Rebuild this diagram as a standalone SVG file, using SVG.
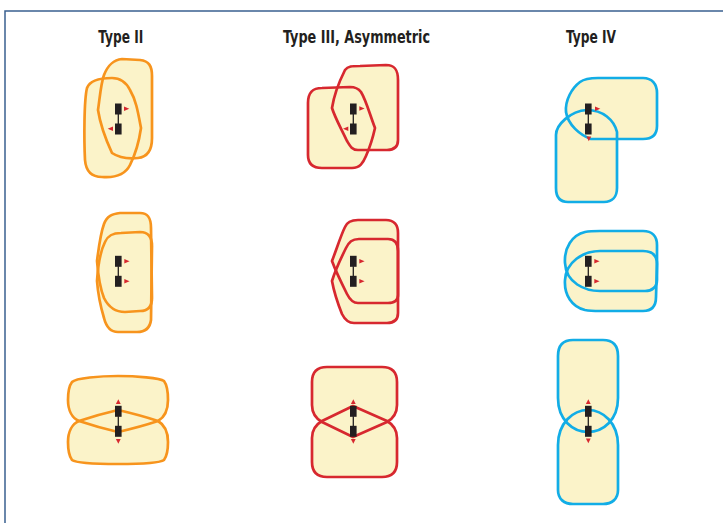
<svg xmlns="http://www.w3.org/2000/svg" xmlns:xlink="http://www.w3.org/1999/xlink" width="723" height="523" viewBox="0 0 723 523">
<style>
.bg{fill:#ffffff}
.frame{fill:none;stroke:#3a6090;stroke-width:1.5}
.title{font-family:"DejaVu Sans Condensed","DejaVu Sans","Liberation Sans",sans-serif;font-weight:bold;font-size:18px;fill:#231f20}
.f{fill:#fbf3c9;stroke:none}
.so{fill:none;stroke:#f7941d;stroke-width:2.7;stroke-linejoin:round}
.sr{fill:none;stroke:#d7282f;stroke-width:2.7;stroke-linejoin:round}
.sb{fill:none;stroke:#12ade6;stroke-width:2.7;stroke-linejoin:round}
.tri{fill:#d7282f}
.antc{fill:#231f20;stroke:#231f20}
</style>
<defs>
<g id="ant"><rect x="-3.3" y="-15.5" width="6.6" height="11" stroke="none"/><rect x="-3.3" y="4.5" width="6.6" height="11" stroke="none"/><line x1="0" y1="-5" x2="0" y2="5" stroke-width="1.3"/></g>
<path id="tR" d="M0,-2.3 L5.3,0 L0,2.3 Z"/>
<path id="tL" d="M0,-2.3 L-5.3,0 L0,2.3 Z"/>
<path id="tU" d="M-2.4,0 L0,-4.8 L2.4,0 Z"/>
<path id="tD" d="M-2.4,0 L0,4.8 L2.4,0 Z"/>
<!-- row 1 -->
<path id="p1a" d="M98,110 C100,96 101,83 104,75 C108,65 113,60 122,59 L140,60 C149,61 152,66 152,76 L152,138 C152,150 147,157 138,158 C128,159 118,157 112,153 C106,140 100,123 98,110 Z"/>
<path id="p1b" d="M141,128 C138,112 136,100 130,90 C126,82 120,78 112,78 C100,78 90,80 87,88 C84,100 84,140 85,160 C86,172 92,177 102,177 C115,178 125,175 130,165 C135,155 139,142 141,128 Z"/>
<path id="p2a" d="M332,108 C334,95 340,80 345,70 C348,66 352,66 360,66 L386,65 C395,65 398,70 398,80 L398,140 C398,147 394,150 387,150 L358,150 C352,150 350,146 347,141 C342,130 335,118 332,108 Z"/>
<path id="p2b" d="M375,128 C370,115 366,100 361,92 C358,88 355,87 350,87 L322,88 C312,88 308,93 308,103 L308,155 C308,164 313,168 322,168 L352,168 C360,168 363,163 366,156 C370,147 373,137 375,128 Z"/>
<path id="p3a" d="M591,139 C580,135 568,125 566,112 C565,100 572,88 580,82 C584,79 590,78 598,78 L643,78 C652,78 657,84 657,93 L657,126 C657,135 652,139 643,139 Z"/>
<path id="p3b" d="M556,135 C556,125 570,111 587,110 C603,110 614,120 617,132 L617,188 C617,197 612,202 604,202 L568,202 C560,202 556,197 556,188 Z"/>
<!-- row 2 -->
<path id="p4a" d="M97,261 C99,245 101,232 104,224 C107,216 112,214 120,213 L140,213 C148,213 151,218 151,228 L152,298 C152,307 148,311 140,311 L125,312 C115,312 108,306 104,298 C100,288 98,274 97,261 Z"/>
<path id="p4b" d="M97,281 C98,265 101,250 105,242 C108,235 113,233 121,233 L140,232 C148,232 152,237 152,246 L151,320 C150,328 145,332 137,332 L118,332 C110,332 106,326 104,318 C101,308 98,294 97,281 Z"/>
<path id="p5a" d="M332,261 C337,248 341,235 345,227 C347,222 351,220 358,220 L386,220 C394,220 398,225 398,233 L398,295 C398,300 395,303 388,303 L358,303 C353,303 350,300 347,294 C342,284 336,272 332,261 Z"/>
<path id="p5b" d="M332,281 C336,268 342,256 346,248 C349,242 352,239 359,239 L388,239 C395,239 398,243 398,251 L398,313 C398,320 394,323 387,323 L354,323 C348,323 345,320 342,314 C338,304 334,292 332,281 Z"/>
<path id="p6a" d="M600,291 C585,291 566,283 565,263 C564,248 572,235 585,232 C590,231 595,231 600,231 L643,231 C652,231 657,236 657,245 L657,280 C657,287 652,291 645,291 Z"/>
<path id="p6b" d="M600,251 C583,251 566,262 565,280 C564,295 572,307 585,310 C590,311 595,311 600,311 L643,311 C652,311 656,306 656,297 L657,264 C657,255 652,251 643,251 Z"/>
<!-- row 3 -->
<path id="p7a" d="M118,432 C105,429 91,425 79,421 C72,418 68,410 68,400 C68,392 69,386 72,382 C76,378 100,376 118,376 C136,376 160,378 164,381 C167,385 168,392 168,400 C168,410 165,417 158,421 C146,425 131,429 118,432 Z"/>
<path id="p7b" d="M118,410 C105,413 91,417 79,421 C72,424 68,432 68,442 C68,450 69,456 72,460 C76,463 100,464 118,464 C136,464 160,463 164,460 C167,456 168,450 168,442 C168,432 165,425 158,421 C146,417 131,413 118,410 Z"/>
<path id="p8a" d="M353,437 L322,422 C315,418 312,413 312,405 L312,382 C312,372 317,367 327,367 L382,367 C392,367 397,372 397,382 L397,405 C397,413 394,418 387,422 Z"/>
<path id="p8b" d="M353,406 L322,421 C315,425 312,430 312,438 L312,462 C312,472 317,477 327,477 L382,477 C392,477 397,472 397,462 L397,438 C397,430 394,425 387,421 Z"/>
<path id="p9a" d="M558,356 C558,345 563,340 573,340 L603,340 C613,340 618,345 618,356 L618,398 C618,420 603,432 588,432 C573,432 558,420 558,398 Z"/>
<path id="p9b" d="M558,445 C558,423 573,410 588,410 C603,410 618,423 618,445 L618,490 C618,499 612,504 603,504 L573,504 C564,504 558,499 558,490 Z"/>
</defs>
<rect class="bg" x="0" y="0" width="723" height="523"/>
<path class="frame" d="M5,523 V11 H723"/>
<g id="titles">
<text class="title" x="120.8" y="42.5" text-anchor="middle" textLength="45" lengthAdjust="spacingAndGlyphs">Type II</text>
<text class="title" x="356.5" y="42.5" text-anchor="middle" textLength="147" lengthAdjust="spacingAndGlyphs">Type III, Asymmetric</text>
<text class="title" x="591" y="42.5" text-anchor="middle" textLength="50" lengthAdjust="spacingAndGlyphs">Type IV</text>
</g>
<g id="connectors"></g>
<g id="type2-row1">
<use href="#p1a" class="f"/><use href="#p1b" class="f"/><use href="#p1a" class="so"/><use href="#p1b" class="so"/>
<use href="#ant" class="antc" x="118.3" y="119"/>
<use href="#tR" class="tri" x="124" y="108.7"/><use href="#tL" class="tri" x="113" y="128.8"/>
</g>
<g id="type3-row1">
<use href="#p2a" class="f"/><use href="#p2b" class="f"/><use href="#p2a" class="sr"/><use href="#p2b" class="sr"/>
<use href="#ant" class="antc" x="353.3" y="119"/>
<use href="#tR" class="tri" x="359.3" y="108.5"/><use href="#tL" class="tri" x="348.3" y="128.8"/>
</g>
<g id="type4-row1">
<use href="#p3a" class="f"/><use href="#p3b" class="f"/><use href="#p3a" class="sb"/><use href="#p3b" class="sb"/>
<use href="#ant" class="antc" x="588.3" y="119"/>
<use href="#tR" class="tri" x="595" y="108.7"/><use href="#tD" class="tri" x="588.8" y="136.5"/>
</g>
<g id="type2-row2">
<use href="#p4a" class="f"/><use href="#p4b" class="f"/><use href="#p4a" class="so"/><use href="#p4b" class="so"/>
<use href="#ant" class="antc" x="118.3" y="271.3"/>
<use href="#tR" class="tri" x="124.3" y="261.3"/><use href="#tR" class="tri" x="124.3" y="281.3"/>
</g>
<g id="type3-row2">
<use href="#p5a" class="f"/><use href="#p5b" class="f"/><use href="#p5a" class="sr"/><use href="#p5b" class="sr"/>
<use href="#ant" class="antc" x="353.3" y="271.3"/>
<use href="#tR" class="tri" x="359.3" y="261.3"/><use href="#tR" class="tri" x="359.3" y="281.3"/>
</g>
<g id="type4-row2">
<use href="#p6a" class="f"/><use href="#p6b" class="f"/><use href="#p6a" class="sb"/><use href="#p6b" class="sb"/>
<use href="#ant" class="antc" x="588.3" y="271.3"/>
<use href="#tR" class="tri" x="594.3" y="261.3"/><use href="#tR" class="tri" x="594.3" y="281.3"/>
</g>
<g id="type2-row3">
<use href="#p7a" class="f"/><use href="#p7b" class="f"/><use href="#p7a" class="so"/><use href="#p7b" class="so"/>
<use href="#ant" class="antc" x="118.3" y="421.3"/>
<use href="#tU" class="tri" x="118.3" y="404"/><use href="#tD" class="tri" x="118.3" y="439"/>
</g>
<g id="type3-row3">
<use href="#p8a" class="f"/><use href="#p8b" class="f"/><use href="#p8a" class="sr"/><use href="#p8b" class="sr"/>
<use href="#ant" class="antc" x="353.3" y="421.3"/>
<use href="#tU" class="tri" x="353.3" y="404"/><use href="#tD" class="tri" x="353.3" y="439"/>
</g>
<g id="type4-row3">
<use href="#p9a" class="f"/><use href="#p9b" class="f"/><use href="#p9a" class="sb"/><use href="#p9b" class="sb"/>
<use href="#ant" class="antc" x="588.3" y="421.3"/>
<use href="#tU" class="tri" x="588.3" y="404"/><use href="#tD" class="tri" x="588.3" y="438.5"/>
</g>
</svg>
